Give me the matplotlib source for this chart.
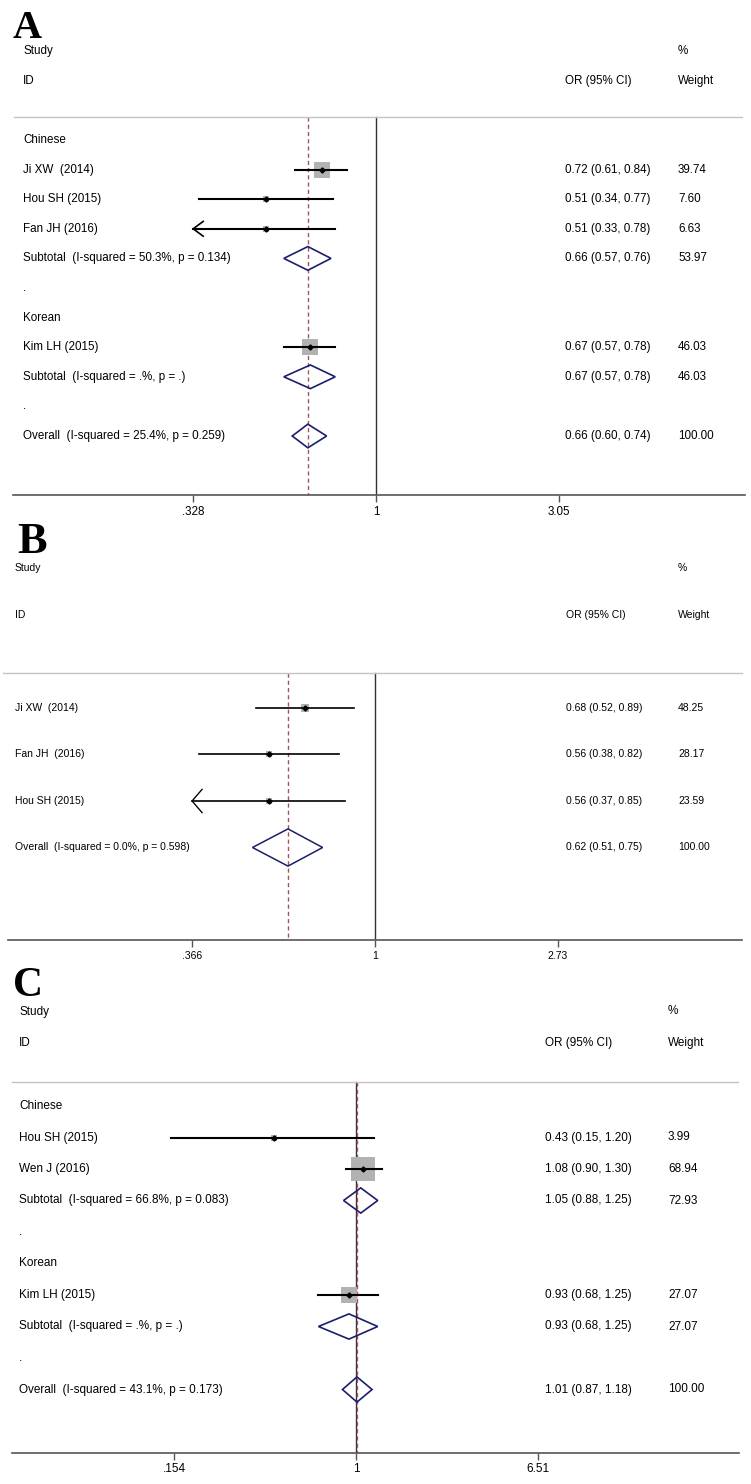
import numpy as np
import matplotlib.pyplot as plt
from matplotlib import font_manager as fm
from matplotlib.patches import Polygon

W, H, DPI = 751, 1484, 100

# DATOS PANEL A
etiq_A = ["Chinese", "Ji XW  (2014)", "Hou SH (2015)", "Fan JH (2016)",
          "Subtotal  (I-squared = 50.3%, p = 0.134)", ".", "Korean",
          "Kim LH (2015)", "Subtotal  (I-squared = .%, p = .)", ".",
          "Overall  (I-squared = 25.4%, p = 0.259)"]
tipo_A = ["g", "e", "e", "e", "s", "p", "g", "e", "s", "p", "t"]
or_A = [None, 0.72, 0.51, 0.51, 0.66, None, None, 0.67, 0.67, None, 0.66]
li_A = [None, 0.61, 0.34, 0.33, 0.57, None, None, 0.57, 0.57, None, 0.60]
ls_A = [None, 0.84, 0.77, 0.78, 0.76, None, None, 0.78, 0.78, None, 0.74]
peso_A = [None, 39.74, 7.60, 6.63, 53.97, None, None, 46.03, 46.03, None, 100.00]
flecha_A = ["Fan JH (2016)"]
ticks_A = [0.328, 1, 3.05]
tlab_A = [".328", "1", "3.05"]

# DATOS PANEL B
etiq_B = ["Ji XW  (2014)", "Fan JH  (2016)", "Hou SH (2015)",
          "Overall  (I-squared = 0.0%, p = 0.598)"]
tipo_B = ["e", "e", "e", "t"]
or_B = [0.68, 0.56, 0.56, 0.62]
li_B = [0.52, 0.38, 0.37, 0.51]
ls_B = [0.89, 0.82, 0.85, 0.75]
peso_B = [48.25, 28.17, 23.59, 100.00]
flecha_B = ["Hou SH (2015)"]
ticks_B = [0.366, 1, 2.73]
tlab_B = [".366", "1", "2.73"]

# DATOS PANEL C
etiq_C = ["Chinese", "Hou SH (2015)", "Wen J (2016)",
          "Subtotal  (I-squared = 66.8%, p = 0.083)", ".", "Korean",
          "Kim LH (2015)", "Subtotal  (I-squared = .%, p = .)", ".",
          "Overall  (I-squared = 43.1%, p = 0.173)"]
tipo_C = ["g", "e", "e", "s", "p", "g", "e", "s", "p", "t"]
or_C = [None, 0.43, 1.08, 1.05, None, None, 0.93, 0.93, None, 1.01]
li_C = [None, 0.15, 0.90, 0.88, None, None, 0.68, 0.68, None, 0.87]
ls_C = [None, 1.20, 1.30, 1.25, None, None, 1.25, 1.25, None, 1.18]
peso_C = [None, 3.99, 68.94, 72.93, None, None, 27.07, 27.07, None, 100.00]
flecha_C = []
ticks_C = [0.154, 1, 6.51]
tlab_C = [".154", "1", "6.51"]

# FUENTES
nombres = {f.name for f in fm.fontManager.ttflist}
sans = "Liberation Sans"
narrow = "Liberation Sans Narrow" if "Liberation Sans Narrow" in nombres else sans
fs_C = 10.2 if narrow != sans else 8.5

# GEOMETRIA (pixeles)
geo_A = dict(x0=13, x1=745, cx=376, esc=164, y0=140, dy=29.6, cab=-0.77,
             xl0=14, xl1=742, x_txt=23, x_or=565, x_peso=678,
             fs=8.4, font=sans, k=2.45, lw=1.5, lwd=1.2)
geo_B = dict(x0=8, x1=742, cx=375, esc=182, y0=708, dy=46.5, cab=-0.75,
             xl0=3, xl1=742, x_txt=15, x_or=566, x_peso=678,
             fs=7.5, font=sans, k=1.1, lw=1.2, lwd=1.1)
geo_C = dict(x0=12, x1=739, cx=356, esc=97.3, y0=1106, dy=31.5, cab=-0.76,
             xl0=12, xl1=738, x_txt=19, x_or=545, x_peso=668,
             fs=fs_C, font=narrow, k=3.0, lw=1.5, lwd=1.2)

NAVY = "#1b1f6b"
GRIS_CAJA = "#b2b2b2"
ROJO = "#a0565b"

fig = plt.figure(figsize=(W / DPI, H / DPI), dpi=DPI)


def panel(etiq, tipo, or_, li, ls, peso, flecha, ticks, tlab, g):
    n = len(etiq)
    cx, esc, y0, dy = g["cx"], g["esc"], g["y0"], g["dy"]
    y_eje = y0 + (n + 1) * dy
    y_top = y0 - 3.7 * dy
    ax = fig.add_axes([g["x0"] / W, 1 - y_eje / H,
                       (g["x1"] - g["x0"]) / W, (y_eje - y_top) / H])
    ax.set_xlim((g["x0"] - cx) / esc, (g["x1"] - cx) / esc)
    ax.set_ylim(n + 1, (y_top - y0) / dy)

    def px(p):
        return (p - cx) / esc

    kw = dict(fontsize=g["fs"], family=g["font"], va="center", ha="left")

    # encabezado
    ax.text(px(g["x_txt"]), -3, "Study", **kw)
    ax.text(px(g["x_txt"]), -2, "ID", **kw)
    ax.text(px(g["x_peso"]), -3, "%", **kw)
    ax.text(px(g["x_or"]), -2, "OR (95% CI)", **kw)
    ax.text(px(g["x_peso"]), -2, "Weight", **kw)
    ax.plot([px(g["xl0"]), px(g["xl1"])], [g["cab"]] * 2,
            color="#c4c4c4", lw=1.0, clip_on=False)

    # lineas verticales
    ax.plot([0, 0], [g["cab"], n + 1], color="#333333", lw=1.0, zorder=1)
    ov = np.log(or_[tipo.index("t")])
    ax.plot([ov, ov], [g["cab"], n + 1], color=ROJO, lw=1.0,
            dashes=(3, 2.2), zorder=1.5)

    for i, t in enumerate(tipo):
        ax.text(px(g["x_txt"]), i, etiq[i], **kw)
        if or_[i] is None:
            continue
        ax.text(px(g["x_or"]), i, f"{or_[i]:.2f} ({li[i]:.2f}, {ls[i]:.2f})", **kw)
        ax.text(px(g["x_peso"]), i, f"{peso[i]:.2f}", **kw)
        lo, hi, e = np.log(li[i]), np.log(ls[i]), np.log(or_[i])
        if t == "e":
            if etiq[i] in flecha:
                lo = np.log(ticks[0])
                ax.plot([lo + 10 / esc, lo, lo + 10 / esc], [i - 0.25, i, i + 0.25],
                        color="black", lw=g["lw"] * 0.8, zorder=3)
            lado = g["k"] * np.sqrt(peso[i]) * 72 / DPI
            ax.scatter([e], [i], marker="s", s=lado ** 2, color=GRIS_CAJA,
                       linewidths=0, zorder=2)
            ax.plot([lo, hi], [i, i], color="black", lw=g["lw"], zorder=3)
            ax.plot([e], [i], marker="D", ms=2.6, color="black", zorder=4)
        else:
            ax.add_patch(Polygon([[lo, i], [e, i - 0.4], [hi, i], [e, i + 0.4]],
                                 closed=True, fill=False, edgecolor=NAVY,
                                 lw=g["lwd"], zorder=3))

    # eje x
    for s in ["top", "left", "right"]:
        ax.spines[s].set_visible(False)
    ax.spines["bottom"].set_color("#555555")
    ax.spines["bottom"].set_linewidth(1.2)
    ax.set_yticks([])
    ax.set_xticks(np.log(ticks))
    ax.set_xticklabels(tlab, family=g["font"], fontsize=g["fs"])
    ax.tick_params(axis="x", length=5, width=1, color="#555555", pad=2.5)
    ax.patch.set_alpha(0)
    return ax


panel(etiq_A, tipo_A, or_A, li_A, ls_A, peso_A, flecha_A, ticks_A, tlab_A, geo_A)
panel(etiq_B, tipo_B, or_B, li_B, ls_B, peso_B, flecha_B, ticks_B, tlab_B, geo_B)
panel(etiq_C, tipo_C, or_C, li_C, ls_C, peso_C, flecha_C, ticks_C, tlab_C, geo_C)

# letras de panel
for letra, x, yb, tam in [("A", 13, 38, 29), ("B", 17, 553, 32), ("C", 13, 996, 30)]:
    fig.text(x / W, 1 - yb / H, letra, family="Liberation Serif",
             fontweight="bold", fontsize=tam, va="baseline", ha="left")

fig.savefig("out.png", dpi=DPI)
